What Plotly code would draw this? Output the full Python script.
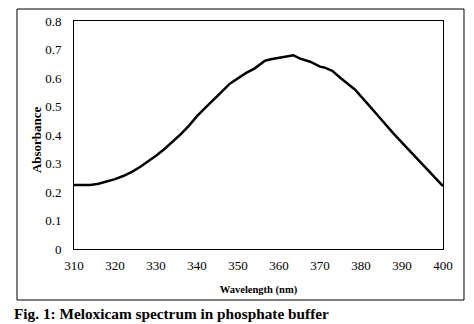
import plotly.graph_objects as go

wavelength = [310, 312, 314, 316, 318, 320, 322, 324, 326, 328, 330, 332, 334, 336, 338,
              340, 342, 344, 346, 348, 350, 352, 354, 355, 356.5, 358, 360, 362, 363.5,
              365, 366, 367.6, 370, 371, 373, 375, 378.5, 380, 382, 384, 386, 388, 390,
              392, 394, 396, 398, 400]
absorbance = [0.225, 0.224, 0.225, 0.229, 0.236, 0.245, 0.256, 0.270, 0.287, 0.306, 0.327,
              0.350, 0.376, 0.402, 0.432, 0.466, 0.495, 0.522, 0.551, 0.580, 0.600, 0.618,
              0.633, 0.645, 0.660, 0.666, 0.671, 0.675, 0.680, 0.669, 0.665, 0.657, 0.640,
              0.637, 0.625, 0.600, 0.560, 0.537, 0.503, 0.470, 0.436, 0.404, 0.373, 0.342,
              0.312, 0.281, 0.251, 0.221]
x_ticks = [310, 320, 330, 340, 350, 360, 370, 380, 390, 400]
y_ticks = [0, 0.1, 0.2, 0.3, 0.4, 0.5, 0.6, 0.7, 0.8]
y_tick_labels = ["0", "0.1", "0.2", "0.3", "0.4", "0.5", "0.6", "0.7", "0.8"]

serif = "Liberation Serif, Times New Roman, serif"

fig = go.Figure(go.Scatter(x=wavelength, y=absorbance, mode="lines",
                           line=dict(color="black", width=2.5), hoverinfo="skip"))

fig.update_layout(
    width=474, height=324,
    margin=dict(l=74, r=31, t=21, b=75),
    paper_bgcolor="white", plot_bgcolor="white",
    showlegend=False,
    font=dict(family=serif, size=13, color="black"),
    xaxis=dict(range=[310, 400], tickvals=x_ticks, ticks="", showgrid=False, zeroline=False,
               showline=True, linecolor="black", linewidth=1, mirror=True,
               ticklabelstandoff=4, tickfont=dict(family=serif, size=13),
               title=dict(text="<b>Wavelength (nm)</b>", font=dict(family=serif, size=10.5),
                          standoff=14)),
    yaxis=dict(range=[0, 0.8], tickvals=y_ticks, ticktext=y_tick_labels, ticks="",
               showgrid=False, zeroline=False,
               showline=True, linecolor="black", linewidth=1, mirror=True,
               ticklabelstandoff=9, tickfont=dict(family=serif, size=13)),
    shapes=[dict(type="rect", xref="paper", yref="paper",
                 x0=-0.1545, x1=1.0569, y0=-0.2237, y1=1.0526,
                 line=dict(color="black", width=1), fillcolor="rgba(0,0,0,0)")],
    annotations=[
        dict(text="<b>Absorbance</b>", xref="paper", yref="paper", x=-0.103, y=0.482,
             xanchor="center", yanchor="middle", textangle=-90, showarrow=False,
             font=dict(family=serif, size=13, color="black")),
        dict(text="<b>Fig. 1: Meloxicam spectrum in phosphate buffer</b>",
             xref="paper", yref="paper", x=-0.168, y=-0.283,
             xanchor="left", yanchor="middle", showarrow=False,
             font=dict(family=serif, size=15.3, color="black")),
    ],
)

fig.write_html("out.html")
